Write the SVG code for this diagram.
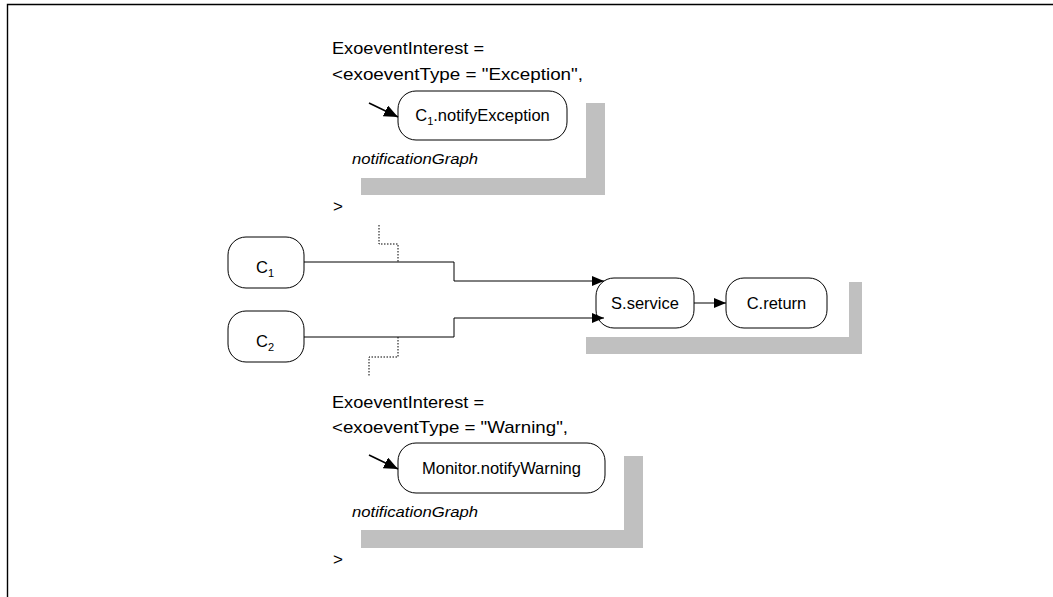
<svg xmlns="http://www.w3.org/2000/svg" width="1053" height="597" viewBox="0 0 1053 597">
<style>
.t{font-family:"Liberation Sans",Arial,sans-serif;font-size:17px;fill:#000}
.lbl{font-family:"Liberation Sans",Arial,sans-serif;font-size:16.5px;fill:#000;text-anchor:middle}
.it{font-style:italic;font-size:15px}
.box{fill:#fff;stroke:#000;stroke-width:1}
.shadow{fill:#c0c0c0;stroke:none}
.edge{fill:none;stroke:#000;stroke-width:1}
.start{fill:none;stroke:#000;stroke-width:1.6}
.dot{fill:none;stroke:#000;stroke-width:1;stroke-dasharray:1.5 1.5}
</style>
<defs>
<marker id="ah" viewBox="0 0 12 10" refX="12" refY="5" markerWidth="12" markerHeight="10" markerUnits="userSpaceOnUse" orient="auto">
<path d="M0,0 L12,5 L0,10 z" fill="#000"/>
</marker>
<marker id="ahs" viewBox="0 0 14 12" refX="14" refY="6" markerWidth="14" markerHeight="12" markerUnits="userSpaceOnUse" orient="auto">
<path d="M0,0 L14,6 L0,12 z" fill="#000"/>
</marker>
</defs>
<rect width="1053" height="597" fill="#fff"/>
<path d="M7.5,597 V4.5 H1053" fill="none" stroke="#000" stroke-width="1.4"/>

<g id="shadows">
<path class="shadow" d="M586,103 H605 V195 H361 V178 H586 z"/>
<path class="shadow" d="M849,282 H862 V354 H586 V337 H849 z"/>
<path class="shadow" d="M624,456 H643 V548 H361 V530 H624 z"/>
</g>

<g id="interest-exception">
<text class="t" x="332" y="54" textLength="152" lengthAdjust="spacingAndGlyphs">ExoeventInterest =</text>
<text class="t" x="332" y="80" textLength="251" lengthAdjust="spacingAndGlyphs">&lt;exoeventType = "Exception",</text>
<text class="t it" x="352" y="164" textLength="126" lengthAdjust="spacingAndGlyphs">notificationGraph</text>
<text class="t" x="333" y="212">&gt;</text>
</g>

<g id="interest-warning">
<text class="t" x="332" y="408" textLength="152" lengthAdjust="spacingAndGlyphs">ExoeventInterest =</text>
<text class="t" x="332" y="433" textLength="236" lengthAdjust="spacingAndGlyphs">&lt;exoeventType = "Warning",</text>
<text class="t it" x="352" y="517" textLength="126" lengthAdjust="spacingAndGlyphs">notificationGraph</text>
<text class="t" x="333" y="565">&gt;</text>
</g>

<g id="node-c1-notifyexception">
<rect class="box" x="398" y="91" width="169" height="49" rx="18"/>
<text class="lbl" x="482.5" y="121">C<tspan font-size="11" dy="4">1</tspan><tspan dy="-4">.notifyException</tspan></text>
</g>

<g id="node-monitor-notifywarning">
<rect class="box" x="398" y="443" width="207" height="50" rx="18"/>
<text class="lbl" x="501.5" y="474">Monitor.notifyWarning</text>
</g>

<g id="node-c1">
<rect class="box" x="228" y="237" width="76" height="51" rx="18"/>
<text class="lbl" x="265" y="273">C<tspan font-size="11" dy="4">1</tspan></text>
</g>

<g id="node-c2">
<rect class="box" x="228" y="311" width="76" height="51" rx="18"/>
<text class="lbl" x="265" y="347">C<tspan font-size="11" dy="4">2</tspan></text>
</g>

<g id="node-s-service">
<rect class="box" x="596" y="278" width="98" height="50" rx="18"/>
<text class="lbl" x="645" y="309">S.service</text>
</g>

<g id="node-c-return">
<rect class="box" x="726" y="278" width="101" height="50" rx="18"/>
<text class="lbl" x="776.5" y="309">C.return</text>
</g>

<g id="connectors">
<polyline class="edge" points="304,262 454,262 454,281 604,281" marker-end="url(#ah)"/>
<polyline class="edge" points="304,337 454,337 454,318 604,318" marker-end="url(#ah)"/>
<line class="edge" x1="694" y1="303" x2="726" y2="303" marker-end="url(#ah)"/>
<line class="start" x1="369" y1="103" x2="398" y2="117" marker-end="url(#ahs)"/>
<line class="start" x1="369" y1="455" x2="398" y2="469" marker-end="url(#ahs)"/>
<polyline class="dot" points="379,225 379,244 398,244 398,262"/>
<polyline class="dot" points="398,337 398,357 369,357 369,377"/>
</g>
</svg>
